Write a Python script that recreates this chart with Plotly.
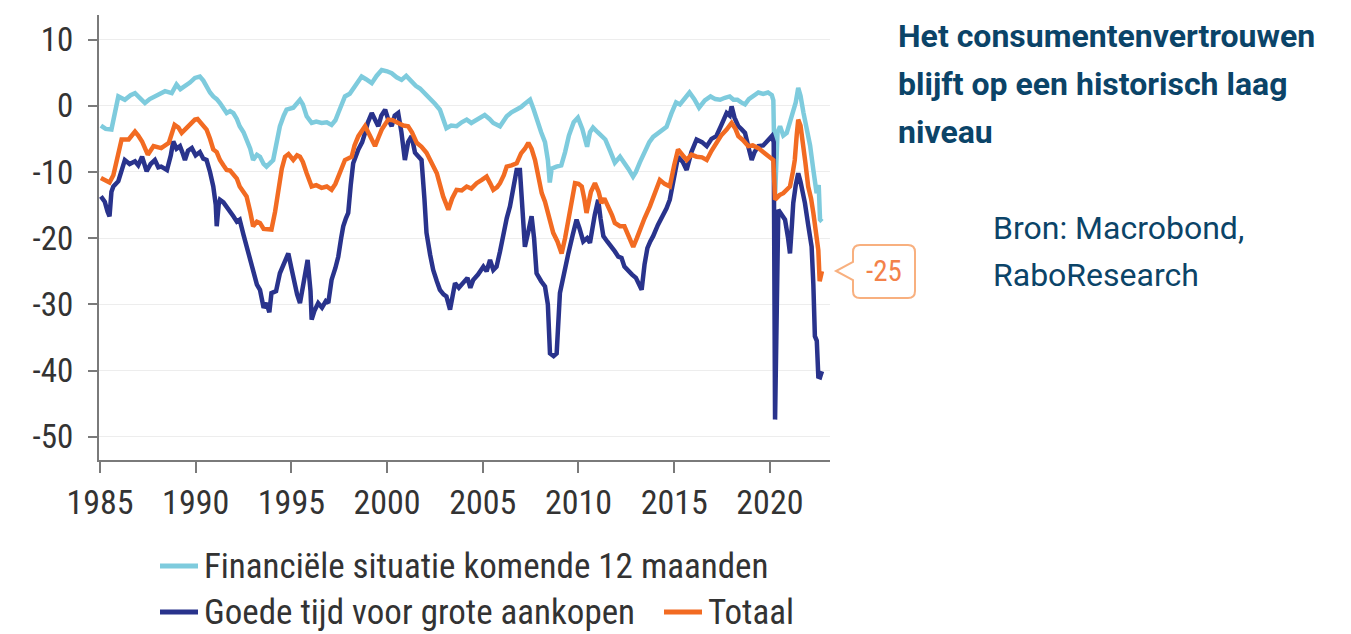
import plotly.graph_objects as go

# ---------------- data ----------------
years_ticks = [1985, 1990, 1995, 2000, 2005, 2010, 2015, 2020]
y_ticks = [10, 0, -10, -20, -30, -40, -50]
y_tick_text = ["10", "0", "-10", "-20", "-30", "-40", "-50"]

fin_x = [1985.05, 1985.3, 1985.6, 1985.8, 1985.96, 1986.3, 1986.6, 1986.83, 1987.1, 1987.35, 1987.6, 1987.87,
         1988.1, 1988.4, 1988.75, 1989.0, 1989.2, 1989.44, 1989.7, 1989.96, 1990.22, 1990.4, 1990.57, 1990.75,
         1990.92, 1991.1, 1991.27, 1991.45, 1991.62, 1991.8, 1991.97, 1992.15, 1992.3, 1992.5, 1992.66, 1992.85,
         1993.0, 1993.2, 1993.36, 1993.55, 1993.7, 1993.9, 1994.05, 1994.2, 1994.4, 1994.6, 1994.75, 1995.1,
         1995.3, 1995.45, 1995.6, 1995.8, 1996.06, 1996.3, 1996.58, 1996.85, 1997.1, 1997.3, 1997.45, 1997.6,
         1997.8, 1998.05, 1998.3, 1998.5, 1998.67, 1998.9, 1999.2, 1999.45, 1999.72, 2000.0, 2000.24, 2000.5,
         2000.76, 2001.0, 2001.28, 2001.5, 2001.72, 2002.0, 2002.24, 2002.5, 2002.76, 2002.95, 2003.1, 2003.35,
         2003.63, 2003.9, 2004.16, 2004.4, 2004.68, 2004.9, 2005.1, 2005.35, 2005.55, 2005.9, 2006.1, 2006.25,
         2006.5, 2006.77, 2007.0, 2007.2, 2007.47, 2007.65, 2007.85, 2008.05, 2008.25, 2008.4, 2008.5, 2008.6,
         2008.85, 2009.1, 2009.3, 2009.5, 2009.75, 2009.97, 2010.2, 2010.45, 2010.6, 2010.76, 2011.0, 2011.2,
         2011.4, 2011.65, 2011.9, 2012.17, 2012.4, 2012.6, 2012.85, 2013.0, 2013.2, 2013.5, 2013.7, 2013.9,
         2014.2, 2014.4, 2014.6, 2014.85, 2015.1, 2015.3, 2015.55, 2015.8, 2016.05, 2016.3, 2016.6, 2016.9,
         2017.15, 2017.4, 2017.65, 2017.9, 2018.1, 2018.3, 2018.5, 2018.7, 2018.9, 2019.15, 2019.4, 2019.65,
         2019.9, 2020.1, 2020.18, 2020.27, 2020.4, 2020.53, 2020.7, 2020.88, 2021.05, 2021.22, 2021.35, 2021.48,
         2021.6, 2021.75, 2021.92, 2022.1, 2022.27, 2022.44, 2022.55, 2022.62, 2022.72]
fin_y = [-3.0, -3.5, -3.6, -1.0, 1.4, 0.9, 1.6, 1.9, 1.0, 0.4, 1.0, 1.4,
         1.6, 2.2, 1.9, 3.2, 2.5, 2.9, 3.5, 4.2, 4.4, 3.8, 2.9, 2.0,
         1.4, 1.0, 0.4, -0.5, -1.1, -0.8, -1.1, -2.0, -3.1, -4.0, -5.1, -6.5,
         -8.2, -7.4, -7.7, -8.8, -9.2, -8.5, -8.2, -6.0, -3.1, -1.5, -0.6, -0.3,
         0.3, 0.9, 0.2, -1.6, -2.6, -2.4, -2.6, -2.5, -2.9, -2.2, -1.1, 0.0,
         1.4, 1.8, 2.9, 3.5, 4.4, 4.0, 3.4, 4.5, 5.4, 5.2, 4.9, 4.3,
         3.9, 4.5, 3.6, 3.0, 2.6, 1.8, 1.2, 0.3, -0.6, -2.0, -3.4, -3.0,
         -3.1, -2.5, -2.1, -2.6, -2.1, -1.8, -1.4, -2.0, -2.6, -3.1, -2.2, -1.6,
         -1.0, -0.6, -0.2, 0.3, 0.9, -0.5, -2.5, -4.0, -5.5, -8.2, -11.6, -9.5,
         -9.2, -9.0, -7.0, -4.5, -2.5, -1.8, -3.5, -6.2, -4.0, -3.3, -4.0, -4.6,
         -5.1, -6.8, -8.6, -7.7, -8.6, -9.5, -10.7, -10.0, -8.6, -6.8, -5.5, -4.7,
         -4.0, -3.5, -3.2, -1.2, 0.5, 0.2, 1.2, 2.0, 1.0, -0.3, 0.8, 1.4,
         1.0, 0.9, 1.2, 1.4, 0.9, 0.9, 0.5, 0.2, 1.0, 1.6, 2.0, 1.8,
         2.0, 1.6, 0.8, -13.7, -4.0, -3.1, -4.5, -4.1, -2.5, -1.1, 0.5, 2.7,
         1.5, -1.0, -3.1, -6.0, -9.7, -13.2, -12.0, -17.2, -17.5]

goede_x = [1985.05, 1985.25, 1985.4, 1985.5, 1985.6, 1985.7, 1985.96, 1986.15, 1986.3, 1986.55, 1986.83, 1987.0,
           1987.2, 1987.44, 1987.65, 1987.87, 1988.05, 1988.2, 1988.5, 1988.7, 1988.83, 1989.0, 1989.18, 1989.3,
           1989.44, 1989.6, 1989.8, 1990.0, 1990.22, 1990.4, 1990.57, 1990.75, 1990.92, 1991.05, 1991.1, 1991.2,
           1991.27, 1991.45, 1991.62, 1991.8, 1991.97, 1992.15, 1992.3, 1992.5, 1992.66, 1992.85, 1993.0, 1993.2,
           1993.36, 1993.55, 1993.7, 1993.85, 1993.96, 1994.2, 1994.4, 1994.6, 1994.84, 1995.0, 1995.19, 1995.3,
           1995.45, 1995.6, 1995.7, 1995.85, 1996.0, 1996.06, 1996.2, 1996.4, 1996.6, 1996.8, 1996.93, 1997.1,
           1997.3, 1997.45, 1997.6, 1997.71, 1997.85, 1997.97, 1998.1, 1998.23, 1998.5, 1998.7, 1998.85, 1999.0,
           1999.2, 1999.35, 1999.54, 1999.7, 1999.9, 2000.05, 2000.24, 2000.4, 2000.58, 2000.75, 2000.93, 2001.1,
           2001.28, 2001.46, 2001.65, 2001.8, 2001.95, 2002.06, 2002.25, 2002.41, 2002.6, 2002.76, 2002.95, 2003.1,
           2003.29, 2003.45, 2003.55, 2003.75, 2003.98, 2004.2, 2004.35, 2004.5, 2004.75, 2005.03, 2005.2, 2005.38,
           2005.55, 2005.72, 2005.9, 2006.07, 2006.25, 2006.42, 2006.6, 2006.77, 2006.94, 2007.05, 2007.2, 2007.38,
           2007.55, 2007.68, 2007.81, 2008.05, 2008.25, 2008.4, 2008.51, 2008.7, 2008.86, 2009.03, 2009.25, 2009.47,
           2009.7, 2009.9, 2010.05, 2010.25, 2010.45, 2010.6, 2010.85, 2011.03, 2011.15, 2011.3, 2011.5, 2011.73,
           2011.9, 2012.08, 2012.25, 2012.4, 2012.6, 2012.8, 2013.0, 2013.2, 2013.3, 2013.45, 2013.6, 2013.75,
           2013.9, 2014.15, 2014.4, 2014.6, 2014.77, 2015.0, 2015.2, 2015.45, 2015.65, 2015.9, 2016.17, 2016.45,
           2016.7, 2016.95, 2017.2, 2017.45, 2017.74, 2017.9, 2018.0, 2018.15, 2018.35, 2018.5, 2018.7, 2018.9,
           2019.05, 2019.2, 2019.4, 2019.65, 2019.92, 2020.1, 2020.2, 2020.27, 2020.44, 2020.6, 2020.79, 2020.95,
           2021.05, 2021.15, 2021.22, 2021.35, 2021.48, 2021.6, 2021.83, 2022.0, 2022.18, 2022.27, 2022.35, 2022.45,
           2022.53, 2022.62, 2022.72]
goede_y = [-13.7, -14.5, -16.0, -16.7, -13.0, -12.2, -11.4, -9.5, -8.2, -8.8, -8.4, -9.0,
           -7.7, -9.9, -8.8, -8.2, -9.3, -9.2, -9.7, -7.5, -5.4, -6.5, -6.1, -7.0,
           -8.2, -6.8, -6.4, -7.5, -7.0, -8.0, -8.2, -10.0, -12.2, -15.0, -18.2, -15.0,
           -14.2, -14.6, -15.2, -16.0, -16.7, -17.5, -17.2, -19.5, -21.3, -23.5, -25.3, -27.0,
           -27.8, -30.5, -29.8, -31.2, -28.3, -28.0, -25.3, -24.0, -22.3, -24.5, -27.3, -28.5,
           -29.8, -27.0, -25.3, -23.3, -28.0, -32.3, -31.0, -29.8, -30.5, -29.5, -29.8, -26.3,
           -24.5, -22.8, -20.0, -18.2, -17.0, -16.2, -12.0, -8.7, -6.6, -5.5, -4.1, -2.5,
           -1.1, -2.0, -3.1, -1.5, -0.6, -2.0, -3.1, -1.5, -1.1, -4.0, -8.2, -5.5,
           -4.6, -7.1, -7.8, -8.2, -14.0, -19.2, -22.5, -24.8, -26.5, -27.8, -28.5, -28.8,
           -30.8, -28.0, -26.8, -27.5, -26.8, -26.0, -27.5, -26.3, -25.5, -24.3, -25.0, -23.3,
           -24.8, -24.3, -22.0, -19.2, -17.0, -15.2, -12.5, -9.7, -9.7, -15.0, -21.3, -19.0,
           -16.7, -20.0, -25.3, -26.5, -27.3, -30.0, -37.4, -37.8, -37.4, -28.3, -25.0, -22.3,
           -19.5, -17.2, -18.5, -20.5, -20.0, -20.7, -16.5, -14.2, -17.0, -19.7, -20.5, -21.3,
           -22.0, -22.8, -23.0, -24.3, -25.0, -25.5, -26.0, -27.0, -27.8, -24.0, -21.5, -20.5,
           -19.7, -18.0, -16.7, -15.5, -14.2, -10.5, -7.7, -8.5, -9.7, -7.0, -5.1, -5.5,
           -6.1, -5.0, -4.6, -3.0, -1.1, -1.5, -0.1, -1.8, -3.1, -3.5, -4.1, -6.5,
           -8.2, -7.0, -6.1, -6.0, -5.1, -4.6, -5.5, -47.4, -15.7, -16.5, -17.2, -20.0,
           -22.3, -18.0, -14.7, -12.0, -10.2, -11.5, -14.7, -18.0, -21.3, -27.0, -34.8, -35.5,
           -40.9, -41.0, -40.1]

totaal_x = [1985.05, 1985.3, 1985.5, 1985.7, 1985.87, 1986.13, 1986.5, 1986.83, 1987.0, 1987.2, 1987.5, 1987.8,
            1988.2, 1988.6, 1988.9, 1989.1, 1989.27, 1989.6, 1989.96, 1990.1, 1990.3, 1990.57, 1990.75, 1990.92,
            1991.1, 1991.27, 1991.45, 1991.62, 1991.8, 1991.97, 1992.15, 1992.3, 1992.5, 1992.66, 1992.85, 1993.0,
            1993.2, 1993.36, 1993.55, 1993.7, 1993.96, 1994.15, 1994.3, 1994.5, 1994.67, 1994.85, 1995.1, 1995.3,
            1995.45, 1995.6, 1995.8, 1996.06, 1996.3, 1996.58, 1996.85, 1997.1, 1997.3, 1997.45, 1997.65, 1997.8,
            1998.15, 1998.3, 1998.5, 1998.7, 1998.85, 1999.1, 1999.37, 1999.55, 1999.72, 2000.06, 2000.3, 2000.58,
            2000.85, 2001.1, 2001.3, 2001.55, 2001.8, 2002.06, 2002.3, 2002.6, 2002.93, 2003.2, 2003.4, 2003.63,
            2003.9, 2004.16, 2004.4, 2004.68, 2004.95, 2005.2, 2005.4, 2005.55, 2005.75, 2005.9, 2006.1, 2006.25,
            2006.5, 2006.77, 2007.0, 2007.2, 2007.38, 2007.55, 2007.73, 2007.9, 2008.08, 2008.25, 2008.42, 2008.55,
            2008.68, 2008.9, 2009.12, 2009.3, 2009.47, 2009.65, 2009.82, 2010.0, 2010.17, 2010.3, 2010.42, 2010.65,
            2010.86, 2011.05, 2011.2, 2011.35, 2011.55, 2011.75, 2011.9, 2012.17, 2012.4, 2012.6, 2012.86, 2013.05,
            2013.2, 2013.45, 2013.73, 2014.0, 2014.25, 2014.5, 2014.77, 2015.0, 2015.2, 2015.45, 2015.65, 2015.9,
            2016.17, 2016.45, 2016.7, 2016.95, 2017.2, 2017.45, 2017.74, 2018.0, 2018.2, 2018.35, 2018.6, 2018.87,
            2019.1, 2019.4, 2019.65, 2019.92, 2020.18, 2020.27, 2020.5, 2020.7, 2020.9, 2021.05, 2021.2, 2021.3,
            2021.4, 2021.48, 2021.6, 2021.74, 2021.85, 2022.0, 2022.15, 2022.27, 2022.4, 2022.53, 2022.6, 2022.72]
totaal_y = [-10.9, -11.3, -11.6, -10.5, -8.2, -5.1, -5.1, -3.9, -4.5, -5.4, -7.4, -6.1,
            -6.4, -5.6, -2.9, -3.3, -4.1, -3.1, -2.1, -2.0, -2.6, -3.6, -5.0, -6.6,
            -7.0, -8.2, -9.0, -9.7, -9.8, -10.4, -11.0, -12.2, -13.0, -13.7, -16.0, -18.2,
            -17.5, -17.7, -18.6, -18.7, -18.7, -16.0, -13.2, -9.5, -7.7, -7.3, -8.2, -7.5,
            -7.7, -8.5, -10.2, -12.2, -12.0, -12.4, -12.2, -12.7, -11.8, -10.7, -9.0, -8.2,
            -7.7, -6.0, -4.6, -3.8, -3.1, -4.5, -6.1, -4.8, -3.6, -2.1, -2.2, -2.6,
            -3.0, -3.1, -4.0, -5.6, -6.2, -7.1, -8.5, -10.2, -13.7, -15.7, -14.0, -12.7,
            -12.8, -12.2, -12.5, -11.7, -11.2, -10.7, -11.8, -12.7, -12.3, -11.7, -10.5, -9.2,
            -9.0, -8.7, -7.2, -6.5, -5.6, -6.5, -8.2, -10.5, -13.2, -14.5, -16.2, -17.5,
            -19.2, -20.5, -22.3, -20.0, -17.2, -14.0, -11.7, -11.8, -12.2, -14.0, -16.2, -13.0,
            -11.7, -13.0, -14.7, -14.0, -15.2, -16.5, -17.7, -18.2, -18.2, -19.5, -21.3, -20.0,
            -18.7, -17.0, -15.2, -13.0, -11.2, -11.8, -12.2, -9.0, -6.6, -7.5, -8.2, -7.4,
            -7.7, -7.8, -8.2, -6.8, -5.6, -4.5, -3.6, -2.6, -3.5, -4.6, -5.2, -6.1,
            -6.0, -6.4, -7.0, -7.7, -8.2, -14.2, -13.5, -13.2, -12.5, -12.2, -10.0, -8.2,
            -4.5, -2.1, -3.0, -5.6, -8.5, -12.2, -14.0, -16.2, -19.0, -21.8, -26.5, -25.0]

series_names = ["Financiële situatie komende 12 maanden", "Goede tijd voor grote aankopen", "Totaal"]
series_colors = ["#7ecbdd", "#29338c", "#f26b22"]
last_label = "-25"

title_lines = ["Het consumentenvertrouwen", "blijft op een historisch laag", "niveau"]
source_lines = ["Bron: Macrobond,", "RaboResearch"]

# ---------------- layout geometry ----------------
# the page body has an 8 px margin, so the figure is drawn 8 px lower/right
OFF = 8
W, H = 1351 - OFF, 634 - OFF
PLOT_L, PLOT_R, PLOT_T, PLOT_B = 99, 830, 15, 460      # plot area in screen pixels
L, T = PLOT_L - OFF, PLOT_T - OFF
R, B = W - (PLOT_R - OFF), H - (PLOT_B - OFF)
PW, PH = W - L - R, H - T - B


def fx(px):
    return (px - OFF - L) / PW


def fy(py):
    return (H - B - (py - OFF)) / PH


narrow = "Liberation Sans Narrow, Arial Narrow, Roboto Condensed, DejaVu Sans Condensed, sans-serif"
txt_col = "#333333"

fig = go.Figure()
for xs, ys, name, col in [(fin_x, fin_y, series_names[0], series_colors[0]),
                          (goede_x, goede_y, series_names[1], series_colors[1]),
                          (totaal_x, totaal_y, series_names[2], series_colors[2])]:
    fig.add_trace(go.Scatter(x=xs, y=ys, name=name, mode="lines", showlegend=False,
                             line=dict(color=col, width=4.5)))

# manual legend (line sample + label), placed like the reference
legend_items = [(160, 566, 0), (160, 612, 1), (664, 612, 2)]
for lx, ly, k in legend_items:
    fig.add_shape(type="line", xref="paper", yref="paper", x0=fx(lx), x1=fx(lx + 38),
                  y0=fy(ly), y1=fy(ly), line=dict(color=series_colors[k], width=5))
    fig.add_annotation(x=fx(lx + 42), y=fy(ly), xref="paper", yref="paper", text=series_names[k],
                       showarrow=False, xanchor="left", yanchor="middle",
                       font=dict(family=narrow, size=35, color=txt_col))

# callout bubble
pts = [("M", 860, 245), ("L", 908, 245), ("Q", 915, 245, 915, 252), ("L", 915, 291),
       ("Q", 915, 298, 908, 298), ("L", 860, 298), ("Q", 853, 298, 853, 291), ("L", 853, 280),
       ("L", 836, 271), ("L", 853, 262), ("L", 853, 252), ("Q", 853, 245, 860, 245)]
path = ""
for p in pts:
    cmd, nums = p[0], p[1:]
    coords = []
    for i in range(0, len(nums), 2):
        coords.append(f"{fx(nums[i]):.5f},{fy(nums[i+1]):.5f}")
    path += cmd + " ".join(coords) + " "
path += "Z"
fig.add_shape(type="path", path=path, xref="paper", yref="paper",
              line=dict(color="#f8b07f", width=2), fillcolor="white")
fig.add_annotation(x=fx(884), y=fy(271), xref="paper", yref="paper", text=last_label,
                   showarrow=False, font=dict(family=narrow, size=29, color="#f3824a"),
                   xanchor="center", yanchor="middle")

for i, line in enumerate(title_lines):
    fig.add_annotation(x=fx(896), y=fy(36 + 48 * i), xref="paper", yref="paper", text=f"<b>{line}</b>",
                       showarrow=False, xanchor="left", yanchor="middle",
                       font=dict(family="Roboto", size=32, color="#0b4468"))
for i, line in enumerate(source_lines):
    fig.add_annotation(x=fx(991), y=fy(228 + 47 * i), xref="paper", yref="paper", text=line,
                       showarrow=False, xanchor="left", yanchor="middle",
                       font=dict(family="Roboto", size=32, color="#0b4468"))

fig.update_layout(
    width=W, height=H,
    margin=dict(l=L, r=R, t=T, b=B, pad=0),
    paper_bgcolor="white", plot_bgcolor="white",
    showlegend=False,
    xaxis=dict(range=[1984.95, 2023.14], tickvals=years_ticks, ticks="outside", ticklen=11,
               tickwidth=2, tickcolor="#7a7a7a", showline=True, linecolor="#7a7a7a", linewidth=2,
               showgrid=False, zeroline=False, automargin=False,
               tickfont=dict(family=narrow, size=34, color=txt_col)),
    yaxis=dict(range=[-53.5, 13.7], tickvals=y_ticks, ticktext=y_tick_text, ticks="outside",
               ticklen=9, tickwidth=2, tickcolor="#7a7a7a", showline=True, linecolor="#7a7a7a",
               linewidth=2, showgrid=True, gridcolor="#ededed", gridwidth=1, zeroline=False,
               automargin=False, ticklabelstandoff=8,
               tickfont=dict(family=narrow, size=33, color=txt_col)),
)

fig.write_html("out.html")
